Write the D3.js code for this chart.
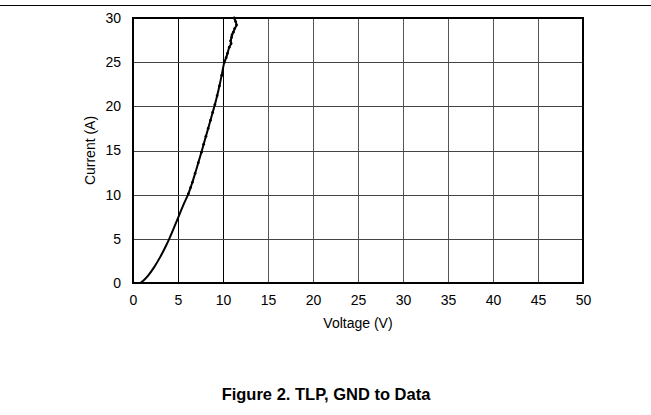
<!DOCTYPE html>
<html><head><meta charset="utf-8">
<script src="https://cdn.jsdelivr.net/npm/d3@7"></script>
<style>body{margin:0;background:#fff;} svg{display:block;font-family:"Liberation Sans",Arial,sans-serif;}</style>
</head><body>
<script>
const xTicks = [0,5,10,15,20,25,30,35,40,45,50];
const yTicks = [0,5,10,15,20,25,30];
const voltage = [0.8,1.2,1.7,2.3,3.0,3.6,4.1,4.6,5.1,5.6,6.15,6.4,6.6,6.9,7.25,7.6,7.85,8.1,8.35,8.6,8.85,9.1,9.35,9.6,9.85,10.15,10.35,10.5,10.7,10.9,10.85,10.95,11.0,11.15,11.3,11.5,11.4,11.25];
const current = [0,0.32,0.87,1.71,2.9,4.07,5.17,6.37,7.6,8.85,10.1,10.8,11.4,12.4,13.6,14.8,15.7,16.6,17.5,18.4,19.3,20.2,21.2,22.3,23.5,25.0,25.5,26.0,26.7,27.1,27.4,27.8,28.1,28.4,28.8,29.2,29.6,30.0];

const W=651,H=415;
const svg=d3.select("body").append("svg").attr("width",W).attr("height",H);
const m={l:133,r:583,t:18,b:283};
const x=d3.scaleLinear().domain([0,50]).range([m.l,m.r]);
const y=d3.scaleLinear().domain([0,30]).range([m.b,m.t]);
const FONT="Liberation Sans, Arial, sans-serif";

// top rule
svg.append("line").attr("x1",0).attr("x2",W).attr("y1",5.5).attr("y2",5.5).attr("stroke","#000").attr("stroke-width",1.2);

// grid
svg.append("g").selectAll("line").data(xTicks.slice(1,-1)).join("line")
  .attr("x1",d=>x(d)+0.5).attr("x2",d=>x(d)+0.5).attr("y1",m.t).attr("y2",m.b)
  .attr("stroke",d=>d<=10?"#000":"#555").attr("stroke-width",1);
svg.append("g").selectAll("line").data(yTicks.slice(1,-1)).join("line")
  .attr("x1",m.l).attr("x2",m.r).attr("y1",d=>Math.round(y(d))+0.5).attr("y2",d=>Math.round(y(d))+0.5)
  .attr("stroke","#444").attr("stroke-width",1);

// axes labels
const xa=d3.axisBottom(x).tickValues(xTicks).tickSize(0).tickPadding(12);
const gx=svg.append("g").attr("transform",`translate(0,${m.b})`).call(xa);
gx.select(".domain").remove();
gx.selectAll("text").attr("font-size",14).attr("fill","#000").attr("font-family",FONT);
const ya=d3.axisLeft(y).tickValues(yTicks).tickSize(0).tickPadding(12);
const gy=svg.append("g").attr("transform",`translate(${m.l},0)`).call(ya);
gy.select(".domain").remove();
gy.selectAll("text").attr("font-size",14).attr("fill","#000").attr("font-family",FONT);

// data line
const data=voltage.map((v,i)=>({v,c:current[i]}));
svg.append("path").datum(data).attr("fill","none").attr("stroke","#000").attr("stroke-width",2)
  .attr("stroke-linejoin","round")
  .attr("d",d3.line().curve(d3.curveCatmullRom.alpha(0.5)).x(d=>x(d.v)).y(d=>y(d.c)));
svg.append("g").selectAll("circle").data(data.filter(d=>d.c>10)).join("circle")
  .attr("cx",d=>x(d.v)).attr("cy",d=>y(d.c)).attr("r",1.4).attr("fill","#000");

// frame
svg.append("rect").attr("x",m.l).attr("y",m.t).attr("width",m.r-m.l).attr("height",m.b-m.t)
  .attr("fill","none").attr("stroke","#000").attr("stroke-width",2);

// titles
svg.append("text").attr("x",(m.l+m.r)/2).attr("y",328).attr("text-anchor","middle").attr("font-size",14).attr("font-family",FONT).text("Voltage (V)");
svg.append("text").attr("transform",`translate(95,${(m.t+m.b)/2}) rotate(-90)`).attr("text-anchor","middle").attr("font-size",14).attr("font-family",FONT).text("Current (A)");
svg.append("text").attr("x",326).attr("y",400).attr("text-anchor","middle").attr("font-size",16.5).attr("font-weight","bold").attr("font-family",FONT).text("Figure 2. TLP, GND to Data");
</script>
</body></html>
